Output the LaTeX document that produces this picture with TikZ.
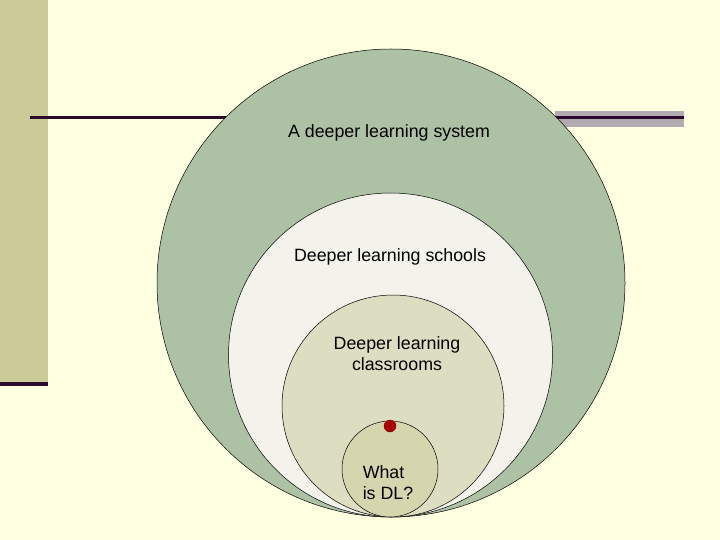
\documentclass[tikz,border=0pt]{standalone}
\usepackage{fontspec}
\setmainfont{Liberation Sans}
\definecolor{bgyellow}{HTML}{FFFFE1}
\definecolor{barkhaki}{HTML}{CBCA99}
\definecolor{darkplum}{HTML}{2B0A2B}
\definecolor{bandgray}{HTML}{B1AAB1}
\definecolor{outergreen}{HTML}{ADC2A5}
\definecolor{schoolwhite}{HTML}{F3F3EC}
\definecolor{classkhaki}{HTML}{DDDDC1}
\definecolor{innerkhaki}{HTML}{D6D6AE}
\definecolor{dotred}{HTML}{A80000}
\tikzset{
  ring/.style={circle, draw=black, line width=0.5pt, inner sep=0pt},
  lbl/.style={font=\fontsize{17.8}{20.5}\selectfont, align=center, inner sep=0pt}
}
\begin{document}
\begin{tikzpicture}[x=1pt,y=-1pt]
\useasboundingbox (0,0) rectangle (720,540);
\fill[bgyellow] (0,0) rectangle (720,540);
% left bar
\fill[barkhaki] (0,0) rectangle (48,382);
\fill[darkplum] (0,382) rectangle (48,386);
% right gray band and rule
\fill[bandgray] (555,111) rectangle (684,127);
\coordinate (ruleL) at (30,117.5);
\coordinate (ruleR) at (684,117.5);
\draw[darkplum, line width=3pt] (ruleL) -- (ruleR);
% circles
\node[ring, fill=outergreen, minimum size=468] (sys) at (391,283) {};
\node[ring, fill=schoolwhite, minimum size=324] (sch) at (390.5,355) {};
\node[ring, fill=classkhaki, minimum size=222] (cls) at (393,406) {};
\node[ring, fill=innerkhaki, minimum size=96] (dl) at (390,469) {};
\node[circle, fill=dotred, draw=dotred!70!black, minimum size=12, inner sep=0pt] (dot) at (390,426) {};
% labels
\node[lbl] (tsys) at (389,133) {A deeper learning system};
\node[lbl] (tsch) at (390,256.5) {Deeper learning schools};
\node[lbl] (tcls) at (397,353.5) {Deeper learning\\classrooms};
\node[lbl, align=left] (tdl) at (388,482.5) {What\\is DL?};
\end{tikzpicture}
\end{document}
